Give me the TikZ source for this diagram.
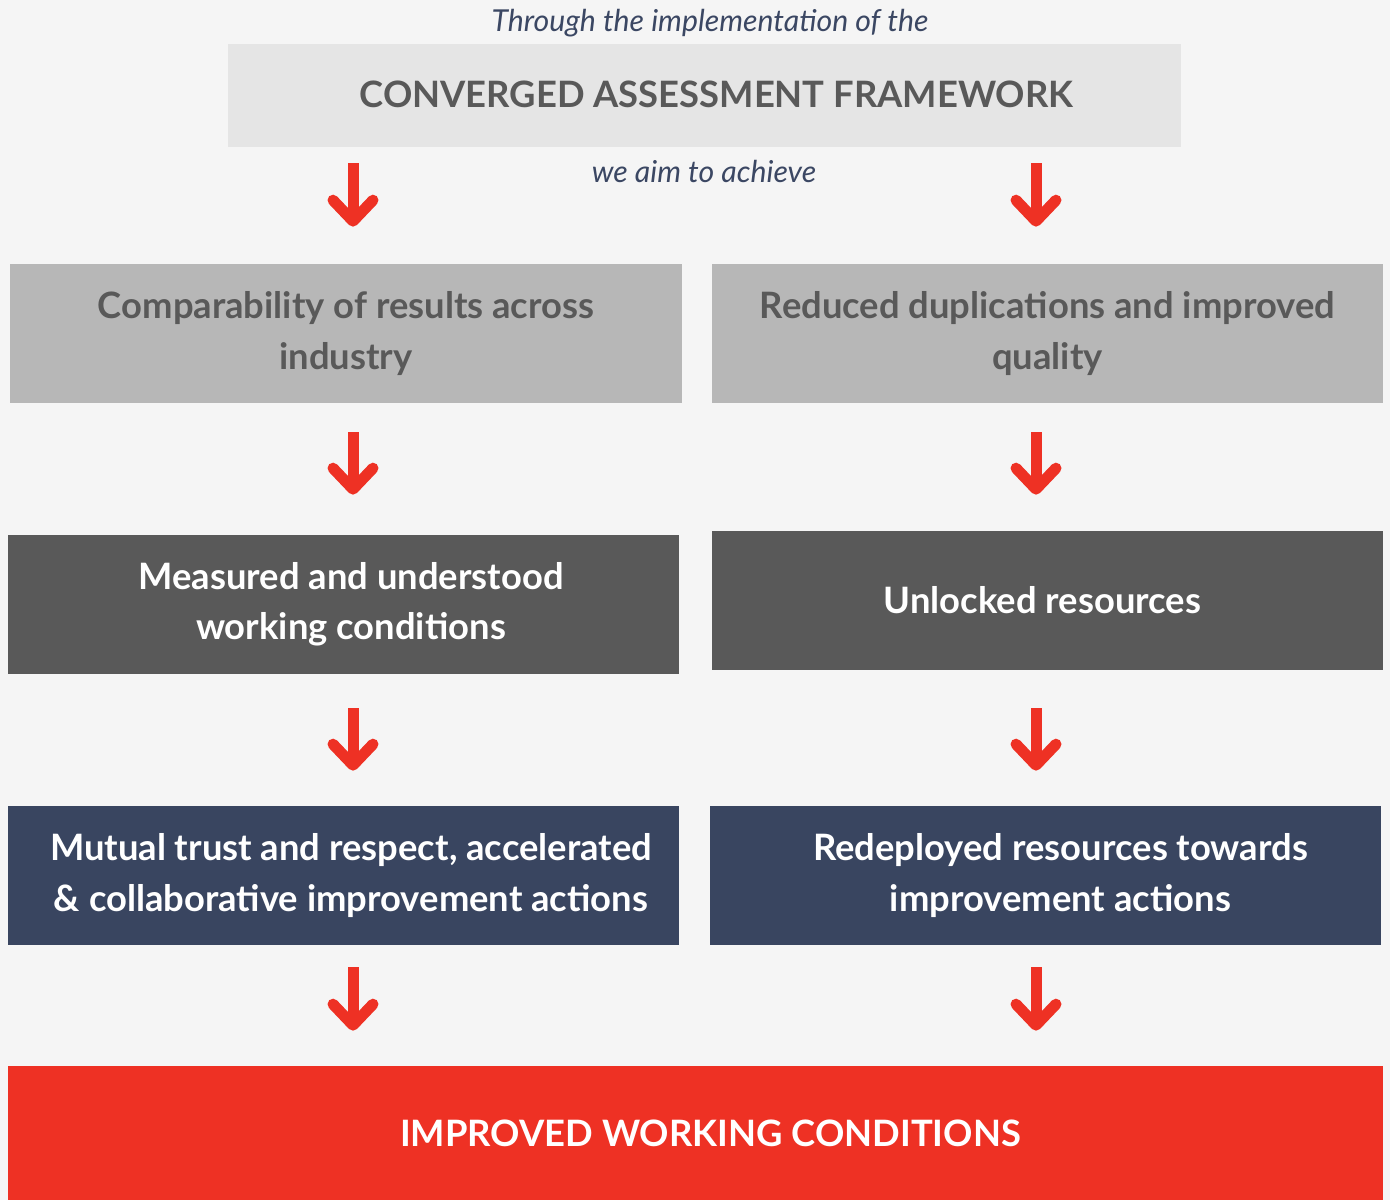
\documentclass[tikz,border=0pt]{standalone}
\usepackage{fontspec}
\setmainfont{Lato}
\usetikzlibrary{arrows.meta}
\definecolor{backgr}{HTML}{F5F5F5}
\definecolor{lightbox}{HTML}{E5E5E5}
\definecolor{midbox}{HTML}{B7B7B7}
\definecolor{darkbox}{HTML}{595959}
\definecolor{navybox}{HTML}{394560}
\definecolor{redbox}{HTML}{EE3124}
\definecolor{slate}{HTML}{3B4763}

\begin{document}
\begin{tikzpicture}[x=0.02cm, y=-0.02cm]
	\tikzset{box/.style={inner sep=0pt, align=center, font=\bfseries\fontsize{20.7}{28.5}\selectfont, minimum width=13.44cm, minimum height=2.78cm},
		flow/.style={-{Straight Barb[round, length=0.42cm, width=0.8cm]}, redbox, line width=0.22cm},
		note/.style={font=\itshape\fontsize{17.2}{20}\selectfont, text=slate}}
	\fill [backgr] (0,0) rectangle (1390,1200);
	\useasboundingbox (0,0) rectangle (1390,1200);

	% framework header
	\node [note] (through) at (710, 23) {Through the implementation of the};
	\node [box, fill=lightbox, text=darkbox, minimum width=19.06cm, minimum height=2.06cm] (caf) at (704.5, 95.5) {\hspace*{0.48cm}\raisebox{1.5pt}{CONVERGED ASSESSMENT FRAMEWORK}};
	\node [note] (aim) at (704, 171) {we aim to achieve};

	% first row
	\node [box, fill=midbox, text=darkbox] (comp) at (346, 333.5) {Comparability of results across\\industry};
	\node [box, fill=midbox, text=darkbox] (dupl) at (1047.5, 333.5) {Reduced duplications and improved\\quality};

	% second row
	\node [box, fill=darkbox, text=white] (meas) at (343.5, 604.5) {\hspace*{0.3cm}Measured and understood\\\hspace*{0.3cm}working conditions};
	\node [box, fill=darkbox, text=white] (unlock) at (1047.5, 600.5) {\hspace*{-0.2cm}Unlocked resources};

	% third row
	\node [box, fill=navybox, text=white] (trust) at (343.5, 875.5) {\hspace*{0.3cm}Mutual trust and respect, accelerated\\\hspace*{0.3cm}\& collaborative improvement actions};
	\node [box, fill=navybox, text=white] (redep) at (1045.5, 875.5) {\hspace*{0.6cm}Redeployed resources towards\\\hspace*{0.6cm}improvement actions};

	% outcome
	\node [box, fill=redbox, text=white, minimum width=27.5cm, minimum height=2.68cm] (iwc) at (695.5, 1133) {\hspace*{0.6cm}IMPROVED WORKING CONDITIONS};

	\coordinate (la) at (353, 0);
	\coordinate (ra) at (1036, 0);

	\draw [flow, shorten <=0.32cm, shorten >=0.74cm] (caf.south -| la) -- (comp.north -| la);
	\draw [flow, shorten <=0.32cm, shorten >=0.74cm] (caf.south -| ra) -- (dupl.north -| ra);
	\draw [flow, shorten <=0.58cm, shorten >=0.8cm] (comp.south -| la) -- (meas.north -| la);
	\draw [flow, shorten <=0.58cm, shorten >=0.72cm] (dupl.south -| ra) -- (unlock.north -| ra);
	\draw [flow, shorten <=0.68cm, shorten >=0.7cm] (meas.south -| la) -- (trust.north -| la);
	\draw [flow, shorten <=0.76cm, shorten >=0.7cm] (unlock.south -| ra) -- (redep.north -| ra);
	\draw [flow, shorten <=0.44cm, shorten >=0.7cm] (trust.south -| la) -- (iwc.north -| la);
	\draw [flow, shorten <=0.44cm, shorten >=0.7cm] (redep.south -| ra) -- (iwc.north -| ra);
\end{tikzpicture}
\end{document}
